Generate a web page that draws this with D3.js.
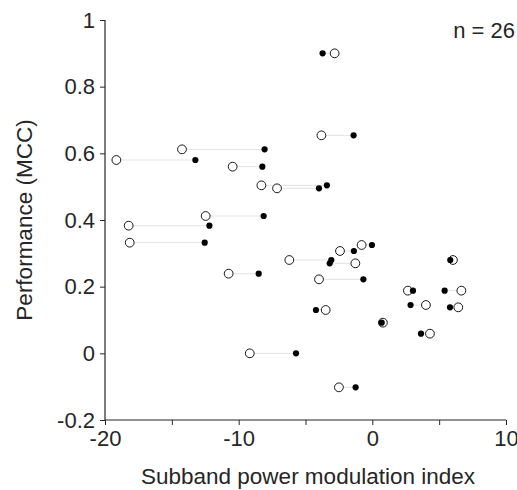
<!DOCTYPE html>
<html>
<head>
<meta charset="utf-8">
<script src="https://cdn.jsdelivr.net/npm/d3@7"></script>
<style>
  body { margin: 0; background: #fff; }
  text { font-family: "Liberation Sans", Arial, sans-serif; fill: #262626; }
</style>
</head>
<body>
<div id="chart"></div>
<script>
// Data: each pair shares one performance value
const performance = [0.90, 0.654, 0.612, 0.58, 0.56, 0.504, 0.495, 0.412, 0.383, 0.332,
  0.325, 0.307, 0.28, 0.27, 0.28, 0.239, 0.222, 0.188, 0.188, 0.145,
  0.138, 0.130, 0.092, 0.059, 0.0, -0.102];
const openIndex = [-2.82, -3.81, -14.24, -19.15, -10.45, -8.30, -7.13, -12.47, -18.23, -18.15,
  -0.80, -2.42, -6.21, -1.27, 6.03, -10.75, -3.99, 2.66, 6.66, 4.01,
  6.43, -3.49, 0.79, 4.31, -9.17, -2.50];
const filledIndex = [-3.72, -1.40, -8.06, -13.24, -8.23, -3.40, -3.99, -8.13, -12.19, -12.54,
  -0.03, -1.38, -3.07, -3.19, 5.83, -8.50, -0.67, 3.04, 5.41, 2.86,
  5.81, -4.22, 0.70, 3.64, -5.71, -1.25];
const xTicks = [-20, -15, -10, -5, 0, 5, 10];
const xTickLabels = ["-20", "", "-10", "", "0", "", "10"];
const yTicks = [-0.2, 0, 0.2, 0.4, 0.6, 0.8, 1];
const yTickLabels = ["-0.2", "0", "0.2", "0.4", "0.6", "0.8", "1"];

const width = 517, height = 490;
const margin = { top: 20, right: 11, bottom: 70, left: 105 };
const innerW = width - margin.left - margin.right;
const innerH = height - margin.top - margin.bottom;

const svg = d3.select("#chart").append("svg")
  .attr("width", width)
  .attr("height", height);

const g = svg.append("g")
  .attr("transform", `translate(${margin.left},${margin.top})`);

const x = d3.scaleLinear().domain([-20, 10]).range([0, innerW]);
const y = d3.scaleLinear().domain([-0.2, 1]).range([innerH, 0]);

const pairs = performance.map((p, i) => ({ p, a: openIndex[i], b: filledIndex[i] }));

// connecting lines
g.selectAll(".link")
  .data(pairs)
  .enter()
  .append("line")
  .attr("class", "link")
  .attr("x1", d => x(d.a))
  .attr("x2", d => x(d.b))
  .attr("y1", d => y(d.p))
  .attr("y2", d => y(d.p))
  .attr("stroke", "#e3e3e3")
  .attr("stroke-width", 1);

// open circles
g.selectAll(".open")
  .data(pairs)
  .enter()
  .append("circle")
  .attr("class", "open")
  .attr("cx", d => x(d.a))
  .attr("cy", d => y(d.p))
  .attr("r", 4.4)
  .attr("fill", "#fff")
  .attr("stroke", "#000")
  .attr("stroke-width", 0.9);

// filled dots
g.selectAll(".filled")
  .data(pairs)
  .enter()
  .append("circle")
  .attr("class", "filled")
  .attr("cx", d => x(d.b))
  .attr("cy", d => y(d.p))
  .attr("r", 3.1)
  .attr("fill", "#000");

// axes
const xAxis = g.append("g")
  .attr("transform", `translate(0,${innerH})`)
  .call(d3.axisBottom(x).tickValues(xTicks).tickSize(5).tickPadding(5)
    .tickFormat((d, i) => xTickLabels[i]));
const yAxis = g.append("g")
  .call(d3.axisLeft(y).tickValues(yTicks).tickSize(5).tickPadding(5)
    .tickFormat((d, i) => yTickLabels[i]));

[xAxis, yAxis].forEach(ax => {
  ax.select(".domain").attr("stroke", "#262626").attr("stroke-width", 1.2)
    .attr("d", ax === xAxis ? `M0,0H${innerW}` : `M0,${innerH}V0`);
  ax.selectAll(".tick line").attr("stroke", "#262626");
  ax.selectAll(".tick text")
    .style("font-size", "22px")
    .style("font-family", "Liberation Sans, Arial, sans-serif")
    .attr("fill", "#262626");
});

// axis titles
svg.append("text")
  .attr("x", 308)
  .attr("y", 484)
  .attr("text-anchor", "middle")
  .style("font-size", "22.5px")
  .text("Subband power modulation index");

svg.append("text")
  .attr("transform", `translate(32,${margin.top + innerH / 2}) rotate(-90)`)
  .attr("text-anchor", "middle")
  .style("font-size", "22.5px")
  .text("Performance (MCC)");

svg.append("text")
  .attr("x", 515)
  .attr("y", 38)
  .attr("text-anchor", "end")
  .style("font-size", "22px")
  .text("n = 26");
</script>
</body>
</html>
